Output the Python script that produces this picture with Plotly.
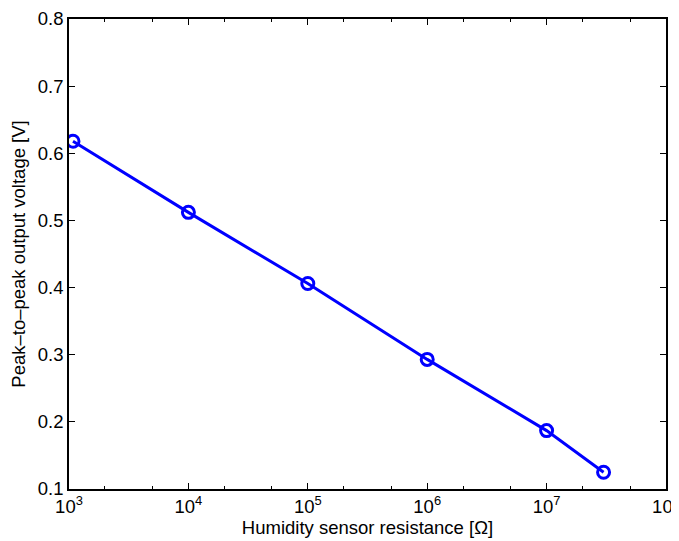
import plotly.graph_objects as go

resistance = [1.08e3, 1e4, 1e5, 1e6, 1e7, 3e7]
voltage = [0.618, 0.512, 0.406, 0.293, 0.187, 0.125]
x_tickvals = [1e3, 1e4, 1e5, 1e6, 1e7, 1e8]
x_ticktext = ["10<sup>3</sup>", "10<sup>4</sup>", "10<sup>5</sup>", "10<sup>6</sup>", "10<sup>7</sup>", "10<sup>8</sup>"]
y_tickvals = [0.1, 0.2, 0.3, 0.4, 0.5, 0.6, 0.7, 0.8]

FONT = "Liberation Sans, Arial, sans-serif"

fig = go.Figure()
fig.add_trace(go.Scatter(
    x=resistance, y=voltage, mode="lines+markers",
    line=dict(color="#0000ff", width=3),
    marker=dict(symbol="circle-open", size=12, color="#0000ff", line=dict(width=3, color="#0000ff")),
    showlegend=False,
))

axis_common = dict(
    showline=True, linecolor="black", linewidth=1.5, mirror="ticks",
    ticks="inside", ticklen=6, tickcolor="black", showgrid=False, zeroline=False,
    tickfont=dict(family=FONT, size=18.5, color="black"), automargin=False,
)
fig.update_xaxes(
    type="log", range=[3, 8], tickvals=x_tickvals, ticktext=x_ticktext,
    ticklabeloverflow="allow",
    minor=dict(ticks="inside", ticklen=3, tickcolor="black", showgrid=False),
    title=dict(text="Humidity sensor resistance [Ω]", standoff=5,
               font=dict(family=FONT, size=18.5, color="black")),
    **axis_common,
)
fig.update_yaxes(
    range=[0.1, 0.8], tickvals=y_tickvals, ticktext=[f"{v:.1f}" for v in y_tickvals],
    title=dict(text="Peak–to–peak output voltage [V]", standoff=10,
               font=dict(family=FONT, size=18.5, color="black")),
    **axis_common,
)
fig.update_layout(
    width=671, height=533,
    margin=dict(l=61, r=13, t=11, b=52),
    plot_bgcolor="white", paper_bgcolor="white",
    font=dict(family=FONT, size=18.5, color="black"),
)
fig.write_html("out.html")
